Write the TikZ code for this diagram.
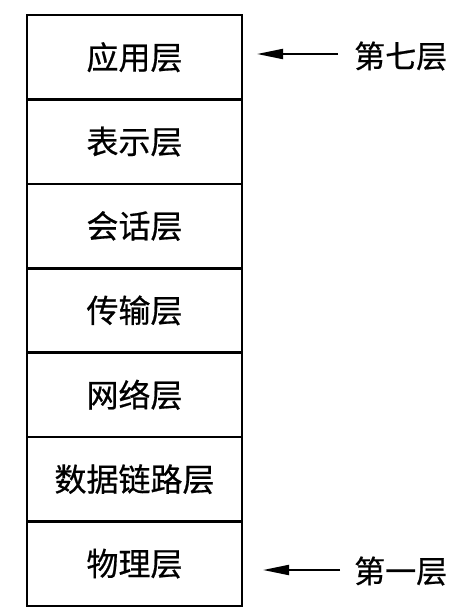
\documentclass[tikz,border=0pt]{standalone}
\usepackage{fontspec}
\newfontfamily\cjk[FakeBold=0.6]{Noto Sans CJK SC}
\usetikzlibrary{arrows.meta}
\begin{document}
\begin{tikzpicture}[x=1pt,y=-1pt,
  layer/.style={draw,line width=2.6pt,minimum width=215pt,minimum height=84.4pt,inner sep=0pt,font=\cjk\fontsize{32}{34}\selectfont},
  lbl/.style={font=\cjk\fontsize{31}{33}\selectfont,anchor=west,inner sep=0pt},
  arr/.style={line width=2pt,-{Triangle[length=26pt,width=10pt]}}]
\useasboundingbox (0,0) rectangle (472,616);
\foreach \t [count=\i from 0] in {应用层,表示层,会话层,传输层,网络层,数据链路层,物理层}{
  \node[layer] (L\i) at (134.5,{57.2+84.4*\i}) {\t};
}
\node[lbl] (t7) at (354,56) {第七层};
\node[lbl] (t1) at (354,571) {第一层};
\coordinate (a7) at (257,54);
\coordinate (a1) at (263,570);
\draw[arr] (t7.west -| 338,0) ++(0,-2) -- (a7);
\draw[arr] (t1.west) ++(-14,-1) -- (a1);
\end{tikzpicture}
\end{document}
